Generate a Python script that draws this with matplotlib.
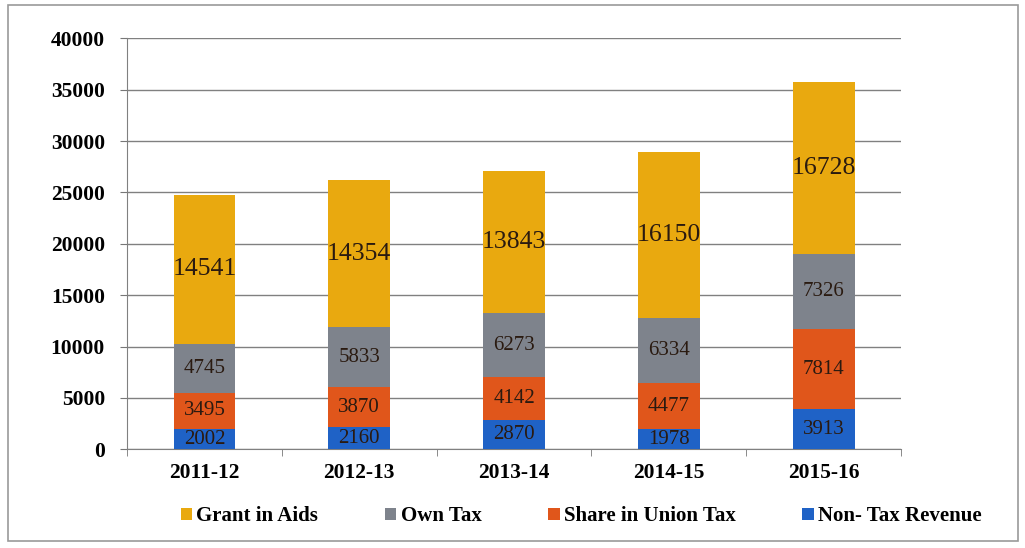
import numpy as np
import matplotlib.pyplot as plt
from matplotlib.patches import Rectangle

# Ingresos por categoria y anio
years = ["2011-12", "2012-13", "2013-14", "2014-15", "2015-16"]
non_tax = [2002, 2160, 2870, 1978, 3913]
union_tax = [3495, 3870, 4142, 4477, 7814]
own_tax = [4745, 5833, 6273, 6334, 7326]
grants = [14541, 14354, 13843, 16150, 16728]

plt.rcParams['font.family'] = ['Liberation Serif', 'DejaVu Serif']

fig = plt.figure(figsize=(10.25, 5.48), dpi=100)
ax = fig.add_axes([0.124, 0.18, 0.755, 0.75])

x = np.arange(len(years))
w = 0.4
series = [
    (non_tax, "Non- Tax Revenue", "#1f62c6", 15),
    (union_tax, "Share in Union Tax", "#e0561b", 15),
    (own_tax, "Own Tax", "#7e838c", 15),
    (grants, "Grant in Aids", "#e9a90f", 18.5),
]
bottom = np.zeros(len(years))
handles = []
for vals, name, col, fs in series:
    vals = np.array(vals)
    b = ax.bar(x, vals, w, bottom=bottom, color=col, label=name, zorder=3)
    handles.append(b)
    for xi, v, bt in zip(x, vals, bottom):
        ax.text(xi, bt + v / 2, str(v), ha='center', va='center',
                fontsize=fs, color='#2a1a10', zorder=4)
    bottom += vals

ax.set_xlim(-0.5, len(years) - 0.5)
ax.set_ylim(0, 40000)
ax.set_yticks(np.arange(0, 40001, 5000))
ax.set_xticks(x)
ax.set_xticklabels(years, fontsize=15.5, fontweight='bold')
ax.set_xticks(np.arange(-0.5, len(years)), minor=True)
ax.tick_params(axis='x', which='major', length=0, pad=10)
ax.tick_params(axis='x', which='minor', length=5, color='#777777')
ax.tick_params(axis='y', length=5, color='#777777', pad=11)
for lab in ax.get_yticklabels():
    lab.set_fontweight('bold')
    lab.set_fontsize(15.5)

ax.grid(axis='y', color='#808080', linewidth=1, zorder=0)
for s in ['top', 'right']:
    ax.spines[s].set_visible(False)
ax.spines['left'].set_color('#808080')
ax.spines['bottom'].set_color('#808080')

leg = fig.legend(handles[::-1], [h.get_label() for h in handles[::-1]],
                 loc='center', bbox_to_anchor=(0.567, 0.058), ncol=4,
                 frameon=False, prop={'weight': 'bold', 'size': 15},
                 handlelength=0.55, handleheight=0.55, handletextpad=0.2,
                 columnspacing=3.2)

# marco exterior
fig.patches.append(Rectangle((0.008, 0.012), 0.985, 0.978, transform=fig.transFigure,
                             fill=False, edgecolor='#9a9a9a', linewidth=1.2))

fig.savefig("out.png", dpi=100)
